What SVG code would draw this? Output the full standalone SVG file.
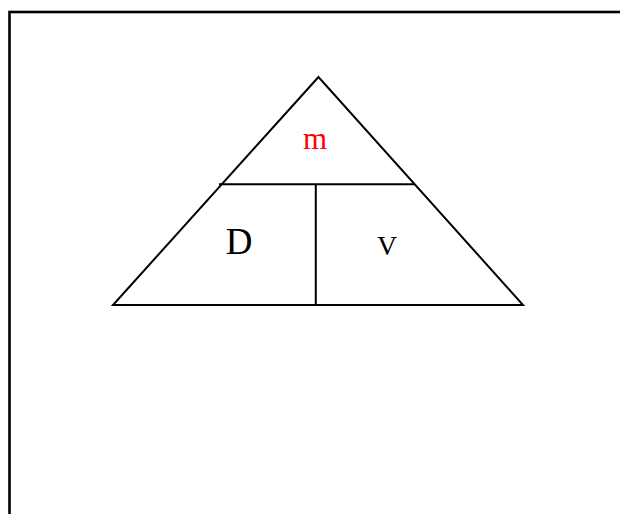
<svg xmlns="http://www.w3.org/2000/svg" width="620" height="514" viewBox="0 0 620 514">
<style>
.ln{fill:none;stroke:#000;stroke-width:2}
.t{font-family:"Liberation Serif","Times New Roman",serif;text-anchor:middle}
</style>
<rect x="0" y="0" width="620" height="514" fill="#fff"/>
<rect id="frame" x="9.5" y="12" width="640" height="540" fill="none" stroke="#000" stroke-width="2.6"/>
<g id="connectors">
<polygon class="ln" points="318.5,77 113,305 523,305"/>
<line class="ln" x1="219" y1="184.3" x2="414" y2="184.3"/>
<line class="ln" x1="315.8" y1="184.3" x2="315.8" y2="305"/>
</g>
<g id="node-m"><text class="t" x="315" y="149" font-size="31" fill="#ff0000">m</text></g>
<g id="node-D"><text class="t" x="239" y="253.5" font-size="37" fill="#000">D</text></g>
<g id="node-V"><text class="t" x="387" y="255" font-size="28" fill="#000">V</text></g>
</svg>
